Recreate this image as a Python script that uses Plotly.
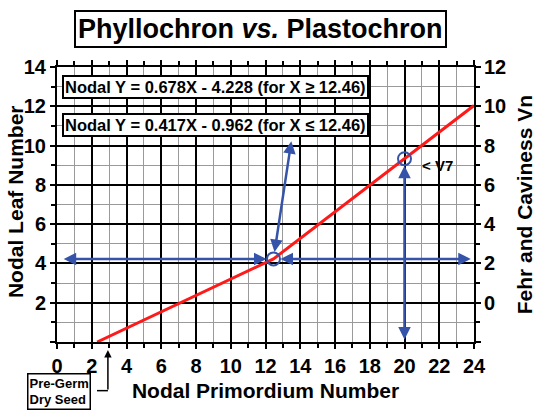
import plotly.graph_objects as go

# Fitted phyllochron / plastochron relation (two linear segments)
line_x = [2.31, 12.46, 24.0]
line_y = [0.0, 4.23, 12.04]

# Highlighted points on the relation
break_x, break_y = 12.46, 4.23
v7_x, v7_y = 20.0, 9.33

# Ends of the guide arrows
left_end_x = 0.3
right_end_x = 23.9
up_end = (13.5, 10.3)
down_end_y = 0.05

seed_x = 2.93

x_ticks = list(range(0, 25, 2))
y_ticks = list(range(0, 15, 2))
y_tick_text = [""] + [str(v) for v in y_ticks[1:]]
vn_ticks = list(range(0, 13, 2))

eq_upper = "Nodal Y = 0.678X - 4.228 (for X \u2265 12.46)"
eq_lower = "Nodal Y = 0.417X - 0.962 (for X \u2264 12.46)"

BLUE = "#3553A8"
RED = "#FF1A1A"
FONT = "Liberation Sans, Arial, sans-serif"


def bold(size):
    return dict(family=FONT, size=size, color="black", weight="bold")


fig = go.Figure()

fig.add_trace(go.Scatter(x=line_x, y=line_y, mode="lines",
                         line=dict(color=RED, width=3), hoverinfo="skip",
                         showlegend=False))
fig.add_trace(go.Scatter(x=[break_x, v7_x], y=[break_y, v7_y], mode="markers",
                         marker=dict(symbol="circle-open", size=13, color=BLUE,
                                     line=dict(width=2, color=BLUE)),
                         showlegend=False, hoverinfo="skip"))
# invisible trace to activate the right-hand Vn axis
fig.add_trace(go.Scatter(x=[None], y=[None], yaxis="y2", showlegend=False))


def guide(x, y, ax, ay):
    fig.add_annotation(x=x, y=y, ax=ax, ay=ay, xref="x", yref="y",
                       axref="x", ayref="y", text="", showarrow=True,
                       arrowhead=2, arrowside="end+start", arrowsize=1,
                       arrowwidth=2.5, arrowcolor=BLUE, standoff=7,
                       startstandoff=0)


guide(break_x, break_y, left_end_x, break_y)
guide(break_x, break_y, right_end_x, break_y)
guide(break_x, break_y, up_end[0], up_end[1])
guide(v7_x, v7_y, v7_x, down_end_y)

fig.add_annotation(x=20.9, y=9.0, xref="x", yref="y", text="&lt; V7",
                   showarrow=False, xanchor="left", yanchor="middle",
                   font=bold(15))

for txt, yv in [(eq_upper, 12.98), (eq_lower, 11.06)]:
    fig.add_annotation(x=0.29, y=yv, xref="x", yref="y", text=txt,
                       showarrow=False, xanchor="left", yanchor="middle",
                       bgcolor="white", bordercolor="black", borderwidth=2,
                       borderpad=1, font=bold(16.5))

# Title in a framed box
fig.add_annotation(x=0.487, y=1.137, xref="paper", yref="paper",
                   xanchor="center", yanchor="middle",
                   text="Phyllochron <i>vs.</i> Plastochron", showarrow=False,
                   bordercolor="black", borderwidth=2, borderpad=2,
                   bgcolor="white", font=bold(27))

# Left / right axis titles
fig.add_annotation(x=-0.1, y=0.51, xref="paper", yref="paper",
                   xanchor="center", yanchor="middle",
                   text="Nodal Leaf Number", textangle=-90, showarrow=False,
                   font=bold(21))
fig.add_annotation(x=1.122, y=0.5, xref="paper", yref="paper",
                   xanchor="center", yanchor="middle",
                   text="Fehr and Caviness Vn", textangle=-90, showarrow=False,
                   font=bold(21))

# Pre-germination dry seed callout
fig.add_annotation(x=0.0036, y=-0.114, xref="paper", yref="paper",
                   text="Pre-Germ<br>Dry Seed", showarrow=False,
                   xanchor="center", yanchor="top", align="left",
                   bordercolor="black", borderwidth=1.5, borderpad=1,
                   bgcolor="white", font=bold(13))
fig.add_annotation(x=seed_x, y=-0.029, xref="x", yref="paper", ax=0, ay=41,
                   text="", showarrow=True, arrowhead=2, arrowsize=1,
                   arrowwidth=1.5, arrowcolor="black")
fig.add_shape(type="line", xref="paper", yref="paper",
              x0=0.0959, x1=(seed_x * 17.375) / 417, y0=-0.1769, y1=-0.1769,
              line=dict(color="black", width=1.5))

tick_font = bold(20)
minor_style = dict(dtick=1, tick0=0, showgrid=True, gridcolor="#9a9a9a",
                   gridwidth=1, ticks="outside", ticklen=4, tickcolor="black")

fig.update_layout(
    width=536, height=411,
    margin=dict(l=57, r=62, t=67, b=67),
    paper_bgcolor="white", plot_bgcolor="white",
    showlegend=False,
    xaxis=dict(range=[0, 24], tickvals=x_ticks, tickfont=tick_font,
               showgrid=True, gridcolor="black", gridwidth=1.5,
               showline=True, linecolor="black", linewidth=2,
               ticks="outside", ticklen=5, tickwidth=1.5, tickcolor="black",
               mirror="ticks", zeroline=False, minor=minor_style,
               title=dict(text="Nodal Primordium Number", standoff=7,
                          font=bold(21))),
    yaxis=dict(range=[0, 14], tickvals=y_ticks, ticktext=y_tick_text,
               tickfont=tick_font,
               showgrid=True, gridcolor="black", gridwidth=1.5,
               showline=True, linecolor="black", linewidth=2,
               ticks="outside", ticklen=5, tickwidth=1.5, tickcolor="black",
               mirror="ticks", zeroline=False, minor=minor_style),
    yaxis2=dict(range=[-2, 12], tickvals=vn_ticks, tickfont=tick_font,
                overlaying="y", side="right", showgrid=False, zeroline=False,
                showline=False, ticks="outside", ticklen=5, tickwidth=1.5,
                tickcolor="black"),
)

fig.write_html("out.html")
